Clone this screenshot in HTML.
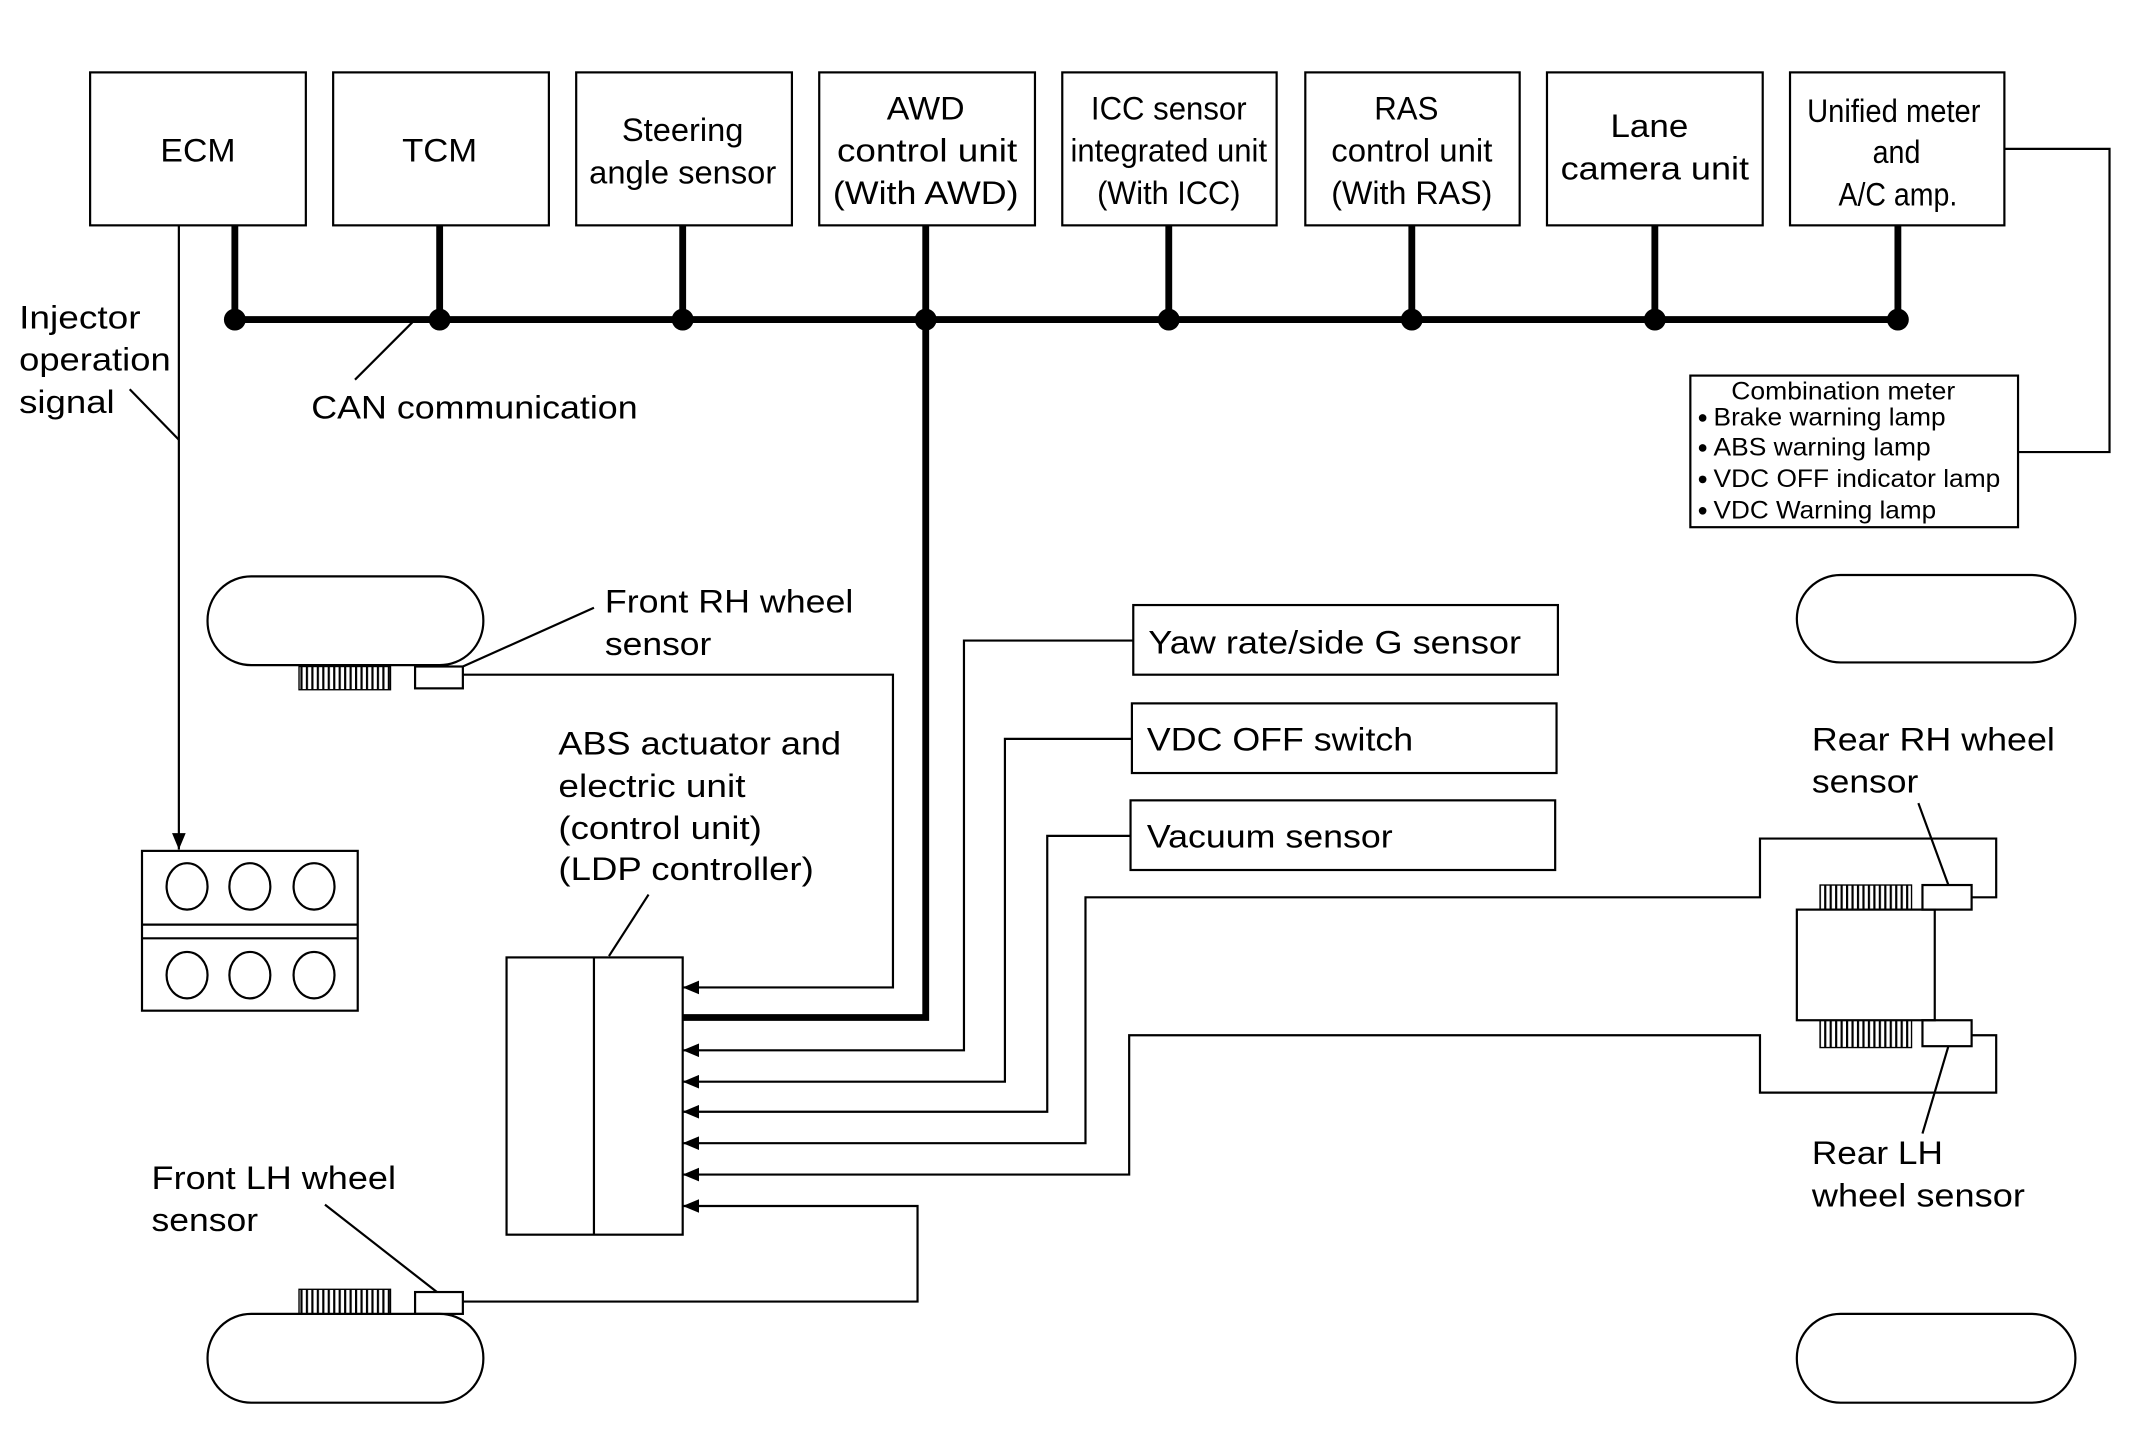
<!DOCTYPE html>
<html><head><meta charset="utf-8"><style>
html,body{margin:0;padding:0;background:#fff;}
svg{display:block;}
text{font-family:"Liberation Sans",sans-serif;fill:#000;dominant-baseline:central;}
.c{text-anchor:middle;}
.s{font-size:18px;}
</style></head><body>
<svg width="2130" height="1445" viewBox="0 0 1560 1058" preserveAspectRatio="none" xmlns="http://www.w3.org/2000/svg">
<defs>
<marker id="a" markerWidth="12" markerHeight="10" refX="12" refY="5" orient="auto" markerUnits="userSpaceOnUse"><path d="M0,0 L12,5 L0,10 Z" fill="#000"/></marker>
<pattern id="t" width="4" height="20" patternUnits="userSpaceOnUse"><rect x="0" y="0" width="1.6" height="20" fill="#000"/></pattern>
</defs>
<g fill="none" stroke="#000" stroke-width="1.6">
<rect x="66" y="53" width="158" height="112"/>
<rect x="244" y="53" width="158" height="112"/>
<rect x="422" y="53" width="158" height="112"/>
<rect x="600" y="53" width="158" height="112"/>
<rect x="778" y="53" width="157" height="112"/>
<rect x="956" y="53" width="157" height="112"/>
<rect x="1133" y="53" width="158" height="112"/>
<rect x="1311" y="53" width="157" height="112"/>
</g>
<g stroke="#000" stroke-width="5" fill="none">
<path d="M172 165V234M322 165V234M500 165V234M856 165V234M1034 165V234M1212 165V234M1390 165V234"/>
<path d="M172 234H1390"/>
<path d="M678 165V745H500"/>
</g>
<g fill="#000">
<circle cx="172" cy="234" r="8"/><circle cx="322" cy="234" r="8"/><circle cx="500" cy="234" r="8"/><circle cx="678" cy="234" r="8"/>
<circle cx="856" cy="234" r="8"/><circle cx="1034" cy="234" r="8"/><circle cx="1212" cy="234" r="8"/><circle cx="1390" cy="234" r="8"/>
</g>
<g fill="none" stroke="#000" stroke-width="1.6">
<path d="M131 165V622" marker-end="url(#a)"/>
<path d="M95 285L131 322"/>
<path d="M302 236L260 278"/>
<path d="M1468 109H1545V331H1478"/>
<rect x="1238" y="275" width="240" height="111"/>
<rect x="152" y="422" width="202" height="65" rx="32"/>
<rect x="1316" y="421" width="204" height="64" rx="32"/>
<rect x="152" y="962" width="202" height="65" rx="32"/>
<rect x="1316" y="962" width="204" height="65" rx="32"/>
<rect x="304" y="488" width="35" height="16"/>
<path d="M339 488L435 445"/>
<path d="M339 494H654V723H500" marker-end="url(#a)"/>
<rect x="371" y="701" width="129" height="203"/>
<path d="M435 701V904"/>
<path d="M446 700L475 655"/>
<rect x="830" y="443" width="311" height="51"/>
<rect x="829" y="515" width="311" height="51"/>
<rect x="828" y="586" width="311" height="51"/>
<path d="M830 469H706V769H500" marker-end="url(#a)"/>
<path d="M829 541H736V792H500" marker-end="url(#a)"/>
<path d="M828 612H767V814H500" marker-end="url(#a)"/>
<path d="M1444 657H1462V614H1289V657H795V837H500" marker-end="url(#a)"/>
<path d="M1444 758H1462V800H1289V758H827V860H500" marker-end="url(#a)"/>
<rect x="1408" y="648" width="36" height="18"/>
<rect x="1408" y="747" width="36" height="19"/>
<rect x="1316" y="666" width="101" height="81"/>
<path d="M1405 588L1427 648M1427 766L1408 830"/>
<path d="M339 953H672V883H500" marker-end="url(#a)"/>
<rect x="304" y="946" width="35" height="16"/>
<path d="M238 882L320 946"/>
<rect x="104" y="623" width="158" height="117"/>
<path d="M104 677H262M104 687H262"/>
<ellipse cx="137" cy="649" rx="15" ry="17"/><ellipse cx="183" cy="649" rx="15" ry="17"/><ellipse cx="230" cy="649" rx="15" ry="17"/>
<ellipse cx="137" cy="714" rx="15" ry="17"/><ellipse cx="183" cy="714" rx="15" ry="17"/><ellipse cx="230" cy="714" rx="15" ry="17"/>
</g>
<g stroke="#000" stroke-width="1">
<rect x="219" y="488" width="67" height="17" fill="url(#t)"/>
<rect x="219" y="944" width="67" height="18" fill="url(#t)"/>
<rect x="1333" y="648" width="67" height="18" fill="url(#t)"/>
<rect x="1333" y="747" width="67" height="20" fill="url(#t)"/>
</g>
<g font-size="24" lengthAdjust="spacingAndGlyphs">
<text class="c" x="145" y="110" textLength="55" lengthAdjust="spacingAndGlyphs">ECM</text>
<text class="c" x="322" y="110" textLength="55" lengthAdjust="spacingAndGlyphs">TCM</text>
<text class="c" x="500" y="95" textLength="89" lengthAdjust="spacingAndGlyphs">Steering</text>
<text class="c" x="500" y="126" textLength="137" lengthAdjust="spacingAndGlyphs">angle sensor</text>
<text class="c" x="678" y="79" textLength="57" lengthAdjust="spacingAndGlyphs">AWD</text>
<text class="c" x="679" y="110" textLength="132" lengthAdjust="spacingAndGlyphs">control unit</text>
<text class="c" x="678" y="141" textLength="136" lengthAdjust="spacingAndGlyphs">(With AWD)</text>
<text class="c" x="856" y="79" textLength="114" lengthAdjust="spacingAndGlyphs">ICC sensor</text>
<text class="c" x="856" y="110" textLength="144" lengthAdjust="spacingAndGlyphs">integrated unit</text>
<text class="c" x="856" y="141" textLength="105" lengthAdjust="spacingAndGlyphs">(With ICC)</text>
<text class="c" x="1030" y="79" textLength="47" lengthAdjust="spacingAndGlyphs">RAS</text>
<text class="c" x="1034" y="110" textLength="118" lengthAdjust="spacingAndGlyphs">control unit</text>
<text class="c" x="1034" y="141" textLength="118" lengthAdjust="spacingAndGlyphs">(With RAS)</text>
<text class="c" x="1208" y="92" textLength="57" lengthAdjust="spacingAndGlyphs">Lane</text>
<text class="c" x="1212" y="123" textLength="138" lengthAdjust="spacingAndGlyphs">camera unit</text>
<text class="c" x="1387" y="81" textLength="127" lengthAdjust="spacingAndGlyphs">Unified meter</text>
<text class="c" x="1389" y="111" textLength="35" lengthAdjust="spacingAndGlyphs">and</text>
<text class="c" x="1390" y="142" textLength="87" lengthAdjust="spacingAndGlyphs">A/C amp.</text>
<text x="14" y="232" textLength="89" lengthAdjust="spacingAndGlyphs">Injector</text>
<text x="14" y="263" textLength="111" lengthAdjust="spacingAndGlyphs">operation</text>
<text x="14" y="294" textLength="70" lengthAdjust="spacingAndGlyphs">signal</text>
<text x="228" y="298" textLength="239" lengthAdjust="spacingAndGlyphs">CAN communication</text>
<text x="443" y="440" textLength="182" lengthAdjust="spacingAndGlyphs">Front RH wheel</text>
<text x="443" y="471" textLength="78" lengthAdjust="spacingAndGlyphs">sensor</text>
<text x="409" y="544" textLength="207" lengthAdjust="spacingAndGlyphs">ABS actuator and</text>
<text x="409" y="575" textLength="137" lengthAdjust="spacingAndGlyphs">electric unit</text>
<text x="409" y="606" textLength="149" lengthAdjust="spacingAndGlyphs">(control unit)</text>
<text x="409" y="636" textLength="187" lengthAdjust="spacingAndGlyphs">(LDP controller)</text>
<text x="841" y="470" textLength="273" lengthAdjust="spacingAndGlyphs">Yaw rate/side G sensor</text>
<text x="840" y="541" textLength="195" lengthAdjust="spacingAndGlyphs">VDC OFF switch</text>
<text x="840" y="612" textLength="180" lengthAdjust="spacingAndGlyphs">Vacuum sensor</text>
<text x="111" y="862" textLength="179" lengthAdjust="spacingAndGlyphs">Front LH wheel</text>
<text x="111" y="893" textLength="78" lengthAdjust="spacingAndGlyphs">sensor</text>
<text x="1327" y="541" textLength="178" lengthAdjust="spacingAndGlyphs">Rear RH wheel</text>
<text x="1327" y="572" textLength="78" lengthAdjust="spacingAndGlyphs">sensor</text>
<text x="1327" y="844" textLength="96" lengthAdjust="spacingAndGlyphs">Rear LH</text>
<text x="1327" y="875" textLength="156" lengthAdjust="spacingAndGlyphs">wheel sensor</text>
</g>
<text class="s c" x="1350" y="287" textLength="164" lengthAdjust="spacingAndGlyphs">Combination meter</text>
<g fill="#000"><circle cx="1247" cy="306" r="2.8"/><circle cx="1247" cy="328" r="2.8"/><circle cx="1247" cy="351" r="2.8"/><circle cx="1247" cy="374" r="2.8"/></g>
<text class="s" x="1255" y="306" textLength="170" lengthAdjust="spacingAndGlyphs">Brake warning lamp</text>
<text class="s" x="1255" y="328" textLength="159" lengthAdjust="spacingAndGlyphs">ABS warning lamp</text>
<text class="s" x="1255" y="351" textLength="210" lengthAdjust="spacingAndGlyphs">VDC OFF indicator lamp</text>
<text class="s" x="1255" y="374" textLength="163" lengthAdjust="spacingAndGlyphs">VDC Warning lamp</text>
</svg>
</body></html>
